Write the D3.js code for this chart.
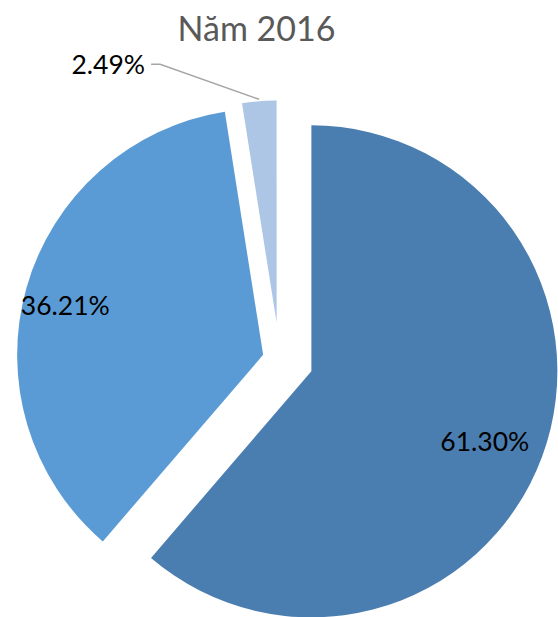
<!DOCTYPE html>
<html>
<head>
<meta charset="utf-8">
<script src="https://cdn.jsdelivr.net/npm/d3@7"></script>
<style>
  html, body { margin: 0; padding: 0; background: #fff; }
  svg { display: block; }
</style>
</head>
<body>
<svg id="chart" width="558" height="617"></svg>
<script>
// Share of each group in 2016 (percent)
const categories = ["Nhóm 1", "Nhóm 2", "Nhóm 3"];
const shares = [61.30, 36.21, 2.49];
const chartTitle = "Năm 2016";

// Layout and styling
const colors = ["#4b7eb0", "#5b9bd5", "#adc6e6"];
const center = { x: 279.5, y: 359.5 };
const explode = [34, 17, 37];          // push-out distance of each slice
const radii = [246, 246, 222];         // outer radius of each slice
const labelPolar = [[187, 112], [204, 284.1]]; // inside labels: [distance, degrees] from slice tip
const leaderElbow = { dx: -99, dy: -35 };      // outside label elbow, relative to slice edge

const svg = d3.select("#chart");
const fontFamily = "Lato, 'Open Sans', sans-serif";

const pie = d3.pie().sort(null).value(d => d.value);
const arcs = pie(categories.map((c, i) => ({ name: c, value: shares[i], i })));
const fmt = v => d3.format(".2f")(v) + "%";

const arcGen = d3.arc().innerRadius(0);

const slices = svg.append("g")
  .attr("transform", `translate(${center.x},${center.y})`);

arcs.forEach((a, i) => {
  const mid = (a.startAngle + a.endAngle) / 2;
  const ox = Math.sin(mid) * explode[i];
  const oy = -Math.cos(mid) * explode[i];
  const g = slices.append("g").attr("transform", `translate(${ox},${oy})`);
  g.append("path")
    .attr("d", arcGen.outerRadius(radii[i])(a))
    .attr("fill", colors[i]);

  if (i < labelPolar.length) {
    const [r, deg] = labelPolar[i];
    const t = deg * Math.PI / 180;
    g.append("text")
      .attr("x", Math.sin(t) * r)
      .attr("y", -Math.cos(t) * r)
      .attr("dy", "0.36em")
      .attr("text-anchor", "middle")
      .attr("font-family", fontFamily)
      .attr("font-size", 26.5)
      .attr("fill", "#000")
      .text(fmt(a.data.value));
  } else {
    // small slice: label outside with a leader line
    const px = Math.sin(mid) * (radii[i] + 2);
    const py = -Math.cos(mid) * (radii[i] + 2);
    const ex = px + leaderElbow.dx, ey = py + leaderElbow.dy;
    g.append("path")
      .attr("d", `M${px},${py}L${ex},${ey}L${ex - 9},${ey}`)
      .attr("fill", "none")
      .attr("stroke", "#a6a6a6")
      .attr("stroke-width", 1.5);
    g.append("text")
      .attr("x", ex - 15)
      .attr("y", ey)
      .attr("dy", "0.36em")
      .attr("text-anchor", "end")
      .attr("font-family", fontFamily)
      .attr("font-size", 26.5)
      .attr("fill", "#000")
      .text(fmt(a.data.value));
  }
});

svg.append("text")
  .attr("x", 256.5)
  .attr("y", 41)
  .attr("text-anchor", "middle")
  .attr("font-family", fontFamily)
  .attr("font-size", 34)
  .attr("fill", "#595959")
  .text(chartTitle);
</script>
</body>
</html>
